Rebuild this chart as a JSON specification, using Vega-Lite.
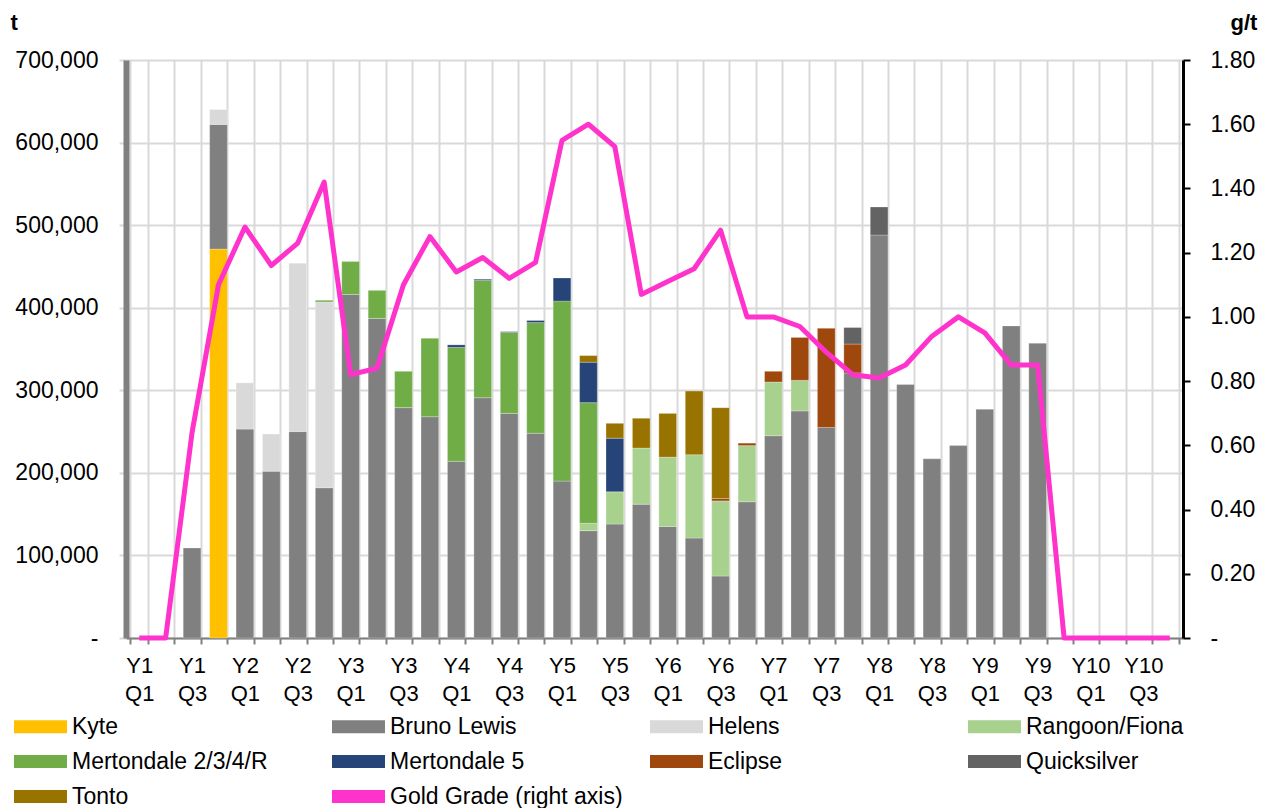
{
  "$schema": "https://vega.github.io/schema/vega-lite/v6.json",
  "width": 1057,
  "height": 578,
  "autosize": {"type": "none"},
  "padding": {"left": 126, "top": 60, "right": 85, "bottom": 170},
  "background": "white",
  "config": {
    "font": "Liberation Sans",
    "view": {"stroke": null},
    "axis": {"labelColor": "#000000", "titleColor": "#000000"}
  },
  "datasets": {
    "bars": [
      {"q": "Y1 Q3", "s": "Bruno Lewis", "t": 109000},
      {"q": "Y1 Q4", "s": "Kyte", "t": 471000},
      {"q": "Y1 Q4", "s": "Bruno Lewis", "t": 151000},
      {"q": "Y1 Q4", "s": "Helens", "t": 18000},
      {"q": "Y2 Q1", "s": "Bruno Lewis", "t": 253000},
      {"q": "Y2 Q1", "s": "Helens", "t": 56000},
      {"q": "Y2 Q2", "s": "Bruno Lewis", "t": 202000},
      {"q": "Y2 Q2", "s": "Helens", "t": 45000},
      {"q": "Y2 Q3", "s": "Bruno Lewis", "t": 250000},
      {"q": "Y2 Q3", "s": "Helens", "t": 204000},
      {"q": "Y2 Q4", "s": "Bruno Lewis", "t": 182000},
      {"q": "Y2 Q4", "s": "Helens", "t": 225000},
      {"q": "Y2 Q4", "s": "Mertondale 2/3/4/R", "t": 2000},
      {"q": "Y3 Q1", "s": "Bruno Lewis", "t": 416000},
      {"q": "Y3 Q1", "s": "Mertondale 2/3/4/R", "t": 40000},
      {"q": "Y3 Q2", "s": "Bruno Lewis", "t": 387000},
      {"q": "Y3 Q2", "s": "Mertondale 2/3/4/R", "t": 34000},
      {"q": "Y3 Q3", "s": "Bruno Lewis", "t": 279000},
      {"q": "Y3 Q3", "s": "Mertondale 2/3/4/R", "t": 44000},
      {"q": "Y3 Q4", "s": "Bruno Lewis", "t": 268000},
      {"q": "Y3 Q4", "s": "Mertondale 2/3/4/R", "t": 95000},
      {"q": "Y4 Q1", "s": "Bruno Lewis", "t": 214000},
      {"q": "Y4 Q1", "s": "Mertondale 2/3/4/R", "t": 138000},
      {"q": "Y4 Q1", "s": "Mertondale 5", "t": 3000},
      {"q": "Y4 Q2", "s": "Bruno Lewis", "t": 291000},
      {"q": "Y4 Q2", "s": "Mertondale 2/3/4/R", "t": 142000},
      {"q": "Y4 Q2", "s": "Mertondale 5", "t": 1500},
      {"q": "Y4 Q3", "s": "Bruno Lewis", "t": 272000},
      {"q": "Y4 Q3", "s": "Mertondale 2/3/4/R", "t": 98000},
      {"q": "Y4 Q3", "s": "Mertondale 5", "t": 1000},
      {"q": "Y4 Q4", "s": "Bruno Lewis", "t": 248000},
      {"q": "Y4 Q4", "s": "Mertondale 2/3/4/R", "t": 134000},
      {"q": "Y4 Q4", "s": "Mertondale 5", "t": 2500},
      {"q": "Y5 Q1", "s": "Bruno Lewis", "t": 190000},
      {"q": "Y5 Q1", "s": "Mertondale 2/3/4/R", "t": 218000},
      {"q": "Y5 Q1", "s": "Mertondale 5", "t": 28000},
      {"q": "Y5 Q2", "s": "Bruno Lewis", "t": 130000},
      {"q": "Y5 Q2", "s": "Rangoon/Fiona", "t": 9000},
      {"q": "Y5 Q2", "s": "Mertondale 2/3/4/R", "t": 146000},
      {"q": "Y5 Q2", "s": "Mertondale 5", "t": 49000},
      {"q": "Y5 Q2", "s": "Tonto", "t": 8000},
      {"q": "Y5 Q3", "s": "Bruno Lewis", "t": 138000},
      {"q": "Y5 Q3", "s": "Rangoon/Fiona", "t": 39000},
      {"q": "Y5 Q3", "s": "Mertondale 5", "t": 65000},
      {"q": "Y5 Q3", "s": "Tonto", "t": 18000},
      {"q": "Y5 Q4", "s": "Bruno Lewis", "t": 162000},
      {"q": "Y5 Q4", "s": "Rangoon/Fiona", "t": 68000},
      {"q": "Y5 Q4", "s": "Tonto", "t": 36000},
      {"q": "Y6 Q1", "s": "Bruno Lewis", "t": 135000},
      {"q": "Y6 Q1", "s": "Rangoon/Fiona", "t": 84000},
      {"q": "Y6 Q1", "s": "Tonto", "t": 53000},
      {"q": "Y6 Q2", "s": "Bruno Lewis", "t": 121000},
      {"q": "Y6 Q2", "s": "Rangoon/Fiona", "t": 101000},
      {"q": "Y6 Q2", "s": "Tonto", "t": 77000},
      {"q": "Y6 Q3", "s": "Bruno Lewis", "t": 75000},
      {"q": "Y6 Q3", "s": "Rangoon/Fiona", "t": 91000},
      {"q": "Y6 Q3", "s": "Eclipse", "t": 3000},
      {"q": "Y6 Q3", "s": "Tonto", "t": 110000},
      {"q": "Y6 Q4", "s": "Bruno Lewis", "t": 165000},
      {"q": "Y6 Q4", "s": "Rangoon/Fiona", "t": 68000},
      {"q": "Y6 Q4", "s": "Eclipse", "t": 3000},
      {"q": "Y7 Q1", "s": "Bruno Lewis", "t": 245000},
      {"q": "Y7 Q1", "s": "Rangoon/Fiona", "t": 65000},
      {"q": "Y7 Q1", "s": "Eclipse", "t": 13000},
      {"q": "Y7 Q2", "s": "Bruno Lewis", "t": 275000},
      {"q": "Y7 Q2", "s": "Rangoon/Fiona", "t": 37000},
      {"q": "Y7 Q2", "s": "Eclipse", "t": 52000},
      {"q": "Y7 Q3", "s": "Bruno Lewis", "t": 255000},
      {"q": "Y7 Q3", "s": "Eclipse", "t": 120000},
      {"q": "Y7 Q4", "s": "Bruno Lewis", "t": 321000},
      {"q": "Y7 Q4", "s": "Eclipse", "t": 35000},
      {"q": "Y7 Q4", "s": "Quicksilver", "t": 20000},
      {"q": "Y8 Q1", "s": "Bruno Lewis", "t": 488000},
      {"q": "Y8 Q1", "s": "Quicksilver", "t": 34000},
      {"q": "Y8 Q2", "s": "Bruno Lewis", "t": 307000},
      {"q": "Y8 Q3", "s": "Bruno Lewis", "t": 217000},
      {"q": "Y8 Q4", "s": "Bruno Lewis", "t": 233000},
      {"q": "Y9 Q1", "s": "Bruno Lewis", "t": 277000},
      {"q": "Y9 Q2", "s": "Bruno Lewis", "t": 378000},
      {"q": "Y9 Q3", "s": "Bruno Lewis", "t": 357000}
    ],
    "grade": [
      {"q": "Y1 Q1", "s": "Gold Grade (right axis)", "g": 0},
      {"q": "Y1 Q2", "s": "Gold Grade (right axis)", "g": 0},
      {"q": "Y1 Q3", "s": "Gold Grade (right axis)", "g": 0.64},
      {"q": "Y1 Q4", "s": "Gold Grade (right axis)", "g": 1.10},
      {"q": "Y2 Q1", "s": "Gold Grade (right axis)", "g": 1.28},
      {"q": "Y2 Q2", "s": "Gold Grade (right axis)", "g": 1.16},
      {"q": "Y2 Q3", "s": "Gold Grade (right axis)", "g": 1.23},
      {"q": "Y2 Q4", "s": "Gold Grade (right axis)", "g": 1.42},
      {"q": "Y3 Q1", "s": "Gold Grade (right axis)", "g": 0.82},
      {"q": "Y3 Q2", "s": "Gold Grade (right axis)", "g": 0.84},
      {"q": "Y3 Q3", "s": "Gold Grade (right axis)", "g": 1.10},
      {"q": "Y3 Q4", "s": "Gold Grade (right axis)", "g": 1.25},
      {"q": "Y4 Q1", "s": "Gold Grade (right axis)", "g": 1.14},
      {"q": "Y4 Q2", "s": "Gold Grade (right axis)", "g": 1.185},
      {"q": "Y4 Q3", "s": "Gold Grade (right axis)", "g": 1.12},
      {"q": "Y4 Q4", "s": "Gold Grade (right axis)", "g": 1.17},
      {"q": "Y5 Q1", "s": "Gold Grade (right axis)", "g": 1.55},
      {"q": "Y5 Q2", "s": "Gold Grade (right axis)", "g": 1.60},
      {"q": "Y5 Q3", "s": "Gold Grade (right axis)", "g": 1.53},
      {"q": "Y5 Q4", "s": "Gold Grade (right axis)", "g": 1.07},
      {"q": "Y6 Q1", "s": "Gold Grade (right axis)", "g": 1.11},
      {"q": "Y6 Q2", "s": "Gold Grade (right axis)", "g": 1.15},
      {"q": "Y6 Q3", "s": "Gold Grade (right axis)", "g": 1.27},
      {"q": "Y6 Q4", "s": "Gold Grade (right axis)", "g": 1.00},
      {"q": "Y7 Q1", "s": "Gold Grade (right axis)", "g": 1.00},
      {"q": "Y7 Q2", "s": "Gold Grade (right axis)", "g": 0.97},
      {"q": "Y7 Q3", "s": "Gold Grade (right axis)", "g": 0.89},
      {"q": "Y7 Q4", "s": "Gold Grade (right axis)", "g": 0.82},
      {"q": "Y8 Q1", "s": "Gold Grade (right axis)", "g": 0.81},
      {"q": "Y8 Q2", "s": "Gold Grade (right axis)", "g": 0.85},
      {"q": "Y8 Q3", "s": "Gold Grade (right axis)", "g": 0.94},
      {"q": "Y8 Q4", "s": "Gold Grade (right axis)", "g": 1.00},
      {"q": "Y9 Q1", "s": "Gold Grade (right axis)", "g": 0.95},
      {"q": "Y9 Q2", "s": "Gold Grade (right axis)", "g": 0.85},
      {"q": "Y9 Q3", "s": "Gold Grade (right axis)", "g": 0.85},
      {"q": "Y9 Q4", "s": "Gold Grade (right axis)", "g": 0},
      {"q": "Y10 Q1", "s": "Gold Grade (right axis)", "g": 0},
      {"q": "Y10 Q2", "s": "Gold Grade (right axis)", "g": 0},
      {"q": "Y10 Q3", "s": "Gold Grade (right axis)", "g": 0},
      {"q": "Y10 Q4", "s": "Gold Grade (right axis)", "g": 0}
    ]
  },
  "layer": [
    {
      "data": {"name": "bars"},
      "transform": [
        {"calculate": "indexof(['Kyte','Bruno Lewis','Helens','Rangoon/Fiona','Mertondale 2/3/4/R','Mertondale 5','Eclipse','Quicksilver','Tonto'], datum.s)", "as": "k"}
      ],
      "mark": {"type": "bar", "stroke": "#ffffff", "strokeWidth": 0.5, "strokeOpacity": 0.5},
      "encoding": {
        "x": {
          "field": "q", "type": "nominal",
          "scale": {
            "domain": ["Y1 Q1","Y1 Q2","Y1 Q3","Y1 Q4","Y2 Q1","Y2 Q2","Y2 Q3","Y2 Q4","Y3 Q1","Y3 Q2","Y3 Q3","Y3 Q4","Y4 Q1","Y4 Q2","Y4 Q3","Y4 Q4","Y5 Q1","Y5 Q2","Y5 Q3","Y5 Q4","Y6 Q1","Y6 Q2","Y6 Q3","Y6 Q4","Y7 Q1","Y7 Q2","Y7 Q3","Y7 Q4","Y8 Q1","Y8 Q2","Y8 Q3","Y8 Q4","Y9 Q1","Y9 Q2","Y9 Q3","Y9 Q4","Y10 Q1","Y10 Q2","Y10 Q3","Y10 Q4"],
            "paddingInner": 0.33, "paddingOuter": 0.165
          },
          "axis": {
            "title": null, "grid": true, "gridColor": "#d9d9d9", "gridWidth": 2,
            "tickBand": "extent", "tickSize": 6, "tickColor": "#808080", "tickWidth": 2,
            "domainColor": "#808080", "domainWidth": 2,
            "labelAngle": 0, "labelFontSize": 22, "labelPadding": 11, "labelLineHeight": 28,
            "labelOverlap": false, "labelBaseline": "top",
            "labelExpr": "test(/Q[13]$/, datum.value) ? split(datum.value, ' ') : ''"
          }
        },
        "y": {
          "field": "t", "type": "quantitative", "stack": "zero",
          "scale": {"domain": [0, 700000], "nice": false},
          "axis": {
            "orient": "left", "title": "t",
            "values": [0, 100000, 200000, 300000, 400000, 500000, 600000, 700000],
            "grid": true, "gridColor": "#d9d9d9", "gridWidth": 2,
            "domainColor": "#808080", "domainWidth": 6,
            "tickColor": "#d9d9d9", "tickSize": 7, "tickWidth": 2,
            "labelFontSize": 23, "labelPadding": 21,
            "labelExpr": "datum.value === 0 ? '-' : format(datum.value, ',')",
            "titleAngle": 0, "titleFontSize": 22, "titleFontWeight": "bold",
            "titleAlign": "left", "titleBaseline": "alphabetic", "titleX": -116, "titleY": -31
          }
        },
        "order": {"field": "k", "type": "quantitative", "sort": "ascending"},
        "color": {
          "field": "s", "type": "nominal",
          "sort": ["Kyte","Bruno Lewis","Helens","Rangoon/Fiona","Mertondale 2/3/4/R","Mertondale 5","Eclipse","Quicksilver","Tonto","Gold Grade (right axis)"],
          "scale": {
            "domain": ["Kyte","Bruno Lewis","Helens","Rangoon/Fiona","Mertondale 2/3/4/R","Mertondale 5","Eclipse","Quicksilver","Tonto","Gold Grade (right axis)"],
            "range": ["#FFC000","#808080","#D9D9D9","#A9D18E","#70AD47","#264478","#9E480E","#636363","#997300","#FF33CC"]
          },
          "legend": {
            "orient": "none", "legendX": -112, "legendY": 655,
            "title": null, "columns": 4, "direction": "horizontal",
            "gridAlign": "all", "columnPadding": 27, "rowPadding": 11, "padding": 0,
            "symbolSize": 529, "symbolOffset": 15, "symbolType": "M-2.304,-0.565H2.304V0.565H-2.304Z", "symbolStrokeWidth": 0,
            "labelFontSize": 23, "labelOffset": 20, "labelColor": "#000000", "labelLimit": 400,
            "encode": {
              "symbols": {
                "update": {
                  "shape": {"signal": "datum.value === 'Gold Grade (right axis)' ? 'M-2.304,-0.26H2.304V0.26H-2.304Z' : 'M-2.304,-0.565H2.304V0.565H-2.304Z'"},
                  "fill": {"signal": "scale('color', datum.value)"},
                  "stroke": {"value": "transparent"},
                  "opacity": {"value": 1},
                  "fillOpacity": {"value": 1}
                }
              }
            }
          }
        }
      }
    },
    {
      "data": {"name": "grade"},
      "mark": {"type": "line", "strokeWidth": 5, "strokeJoin": "round"},
      "encoding": {
        "x": {"field": "q", "type": "nominal"},
        "y": {
          "field": "g", "type": "quantitative",
          "scale": {"domain": [0, 1.8], "nice": false},
          "axis": {
            "orient": "right", "title": "g/t",
            "values": [0, 0.2, 0.4, 0.6, 0.8, 1, 1.2, 1.4, 1.6, 1.8],
            "grid": false, "domainColor": "#000000", "domainWidth": 3,
            "tickColor": "#000000", "tickSize": 7, "tickWidth": 2,
            "labelFontSize": 23, "labelPadding": 20,
            "labelExpr": "datum.value === 0 ? '-' : format(datum.value, '.2f')",
            "titleAngle": 0, "titleFontSize": 22, "titleFontWeight": "bold",
            "titleAlign": "left", "titleBaseline": "alphabetic", "titleX": 47, "titleY": -31
          }
        },
        "color": {"field": "s", "type": "nominal"}
      }
    }
  ],
  "resolve": {"scale": {"y": "independent"}}
}
